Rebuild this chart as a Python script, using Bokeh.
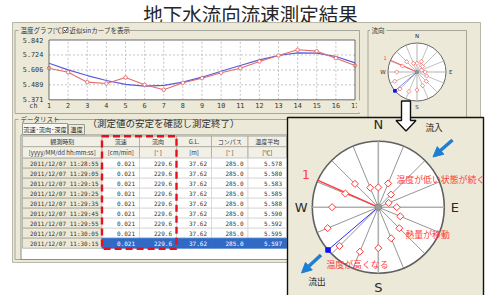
import numpy as np
from bokeh.plotting import figure
from bokeh.models import Range1d, Arrow, NormalHead
from bokeh.embed import file_html
from bokeh.resources import INLINE
from bokeh.core.properties import value

# ---------------- data ----------------
title_text = "地下水流向流速測定結果"
channels = [1, 2, 3, 4, 5, 6, 7, 8, 9, 10, 11, 12, 13, 14, 15, 16, 17]
channel_labels = ["1", "2", "3", "4", "5", "6", "7", "8", "9", "10", "11", "12", "13", "14", "15", "16", "17"]
temp_measured = [5.620, 5.588, 5.510, 5.499, 5.547, 5.489, 5.450, 5.505, 5.541,
                 5.584, 5.620, 5.673, 5.720, 5.765, 5.754, 5.699, 5.641]
temp_sinfit = [5.659, 5.607, 5.562, 5.523, 5.492, 5.478, 5.484, 5.510, 5.549,
               5.596, 5.641, 5.686, 5.720, 5.741, 5.738, 5.712, 5.662]
y_ticks = [5.371, 5.489, 5.606, 5.724, 5.842]
y_tick_labels = ["5.371", "5.489", "5.606", "5.724", "5.842"]

sensor_bearings = [0.0, 22.5, 45.0, 67.5, 90.0, 112.5, 135.0, 157.5,
                   180.0, 202.5, 225.0, 247.5, 270.0, 292.5, 315.0, 337.5]
sensor_radius = [0.30, 0.39, 0.27, 0.17, 0.28, 0.36, 0.45, 0.51,
                 0.62, 0.73, 0.83, 0.83, 0.70, 0.54, 0.50, 0.32]
ch1_bearing = 294.0
flow_direction = 229.6
flow_ratio = 1.0

col_titles = ["観測時刻", "流速", "流向", "G.L.", "コンパス", "温度平均"]
col_units = ["[yyyy/MM/dd hh:mm:ss]", "[cm/min]", "[° ]", "[m]", "[° ]", "[℃]"]
obs_times = ["2011/12/07 11:28:55", "2011/12/07 11:29:05", "2011/12/07 11:29:15",
             "2011/12/07 11:29:25", "2011/12/07 11:29:35", "2011/12/07 11:29:45",
             "2011/12/07 11:29:55", "2011/12/07 11:30:05", "2011/12/07 11:30:15"]
flow_speed = ["0.021", "0.021", "0.021", "0.021", "0.021", "0.021", "0.021", "0.021", "0.021"]
flow_dir = ["229.6", "229.6", "229.6", "229.6", "229.6", "229.6", "229.6", "229.6", "229.6"]
gl_depth = ["37.62", "37.62", "37.62", "37.62", "37.62", "37.62", "37.62", "37.62", "37.62"]
compass_vals = ["285.0", "285.0", "285.0", "285.0", "285.0", "285.0", "285.0", "285.0", "285.0"]
temp_avg = ["5.578", "5.580", "5.583", "5.585", "5.588", "5.590", "5.592", "5.595", "5.597"]

# ---------------- styling ----------------
JP = "Noto Sans CJK JP"
BEIGE = "#ECE9D8"
EDGE = "#a7a69a"
RED = "#ff3b3b"
BLUE_ARROW = "#1d7fd2"

W, H = 487, 295
X0, X1, Y0, Y1 = 0, W, 0, H  # pixel window covered by the figure

p = figure(width=W, height=H, x_range=Range1d(X0, X1), y_range=Range1d(Y1, Y0),
           output_backend="svg", toolbar_location=None, min_border=0,
           x_axis_location=None, y_axis_location=None, title=None)
p.grid.visible = False
p.outline_line_color = None
p.background_fill_color = "white"
p.border_fill_color = "white"

# line-chart scales
LX0, LX1 = 48.5, 354.5
LYB, LYT = 99.3, 39.5
sx = (LX1 - LX0) / (channels[-1] - channels[0])
sy = (LYB - LYT) / (y_ticks[-1] - y_ticks[0])
p.extra_x_ranges["ch"] = Range1d(channels[0] - (LX0 - X0) / sx, channels[-1] + (X1 - LX1) / sx)
p.extra_y_ranges["temp"] = Range1d(y_ticks[0] - (Y1 - LYB) / sy, y_ticks[-1] + (LYT - Y0) / sy)


def polar_ranges(name, cx, cy, r):
    p.extra_x_ranges[name + "x"] = Range1d((X0 - cx) / r, (X1 - cx) / r)
    p.extra_y_ranges[name + "y"] = Range1d(-(Y1 - cy) / r, (cy - Y0) / r)


polar_ranges("big", 377.8, 206.7, 66.0)
polar_ranges("sm", 416.5, 71.5, 29.0)


def T(x, y, s, size, color="#222222", align="left", baseline="middle", font=JP,
      style="normal", xr="default", yr="default"):
    if not isinstance(x, (list, tuple, np.ndarray)):
        x, y, s = [x], [y], [s]
    p.text(x=list(x), y=list(y), text=list(s), text_font=value(font),
           text_font_size=value(f"{size}px"), text_color=color, text_align=align,
           text_baseline=baseline, text_font_style=style,
           x_range_name=xr, y_range_name=yr)


def box(l, r, t, b, fill=None, line=None, lw=1.0, dash="solid", alpha=1.0):
    p.quad(left=[l], right=[r], top=[t], bottom=[b], fill_color=fill,
           line_color=line, line_width=lw, line_dash=dash, fill_alpha=alpha)


# ---------------- title ----------------
T(250, 12.5, title_text, 19.5, color="#262626", align="center")

# ---------------- screenshot background ----------------
box(12, 480, 22, 262, fill=BEIGE, line="#b9b7a8")
# group box: temperature graph
box(14.5, 359, 30, 113, fill=None, line=EDGE)
box(18, 120, 26, 33, fill=BEIGE, line=None)
T(20, 29.5, "温度グラフ[℃]", 6.5, color="#333333")
box(62.5, 67.5, 27, 32, fill="white", line="#555555", lw=0.8)
p.line(x=[63.5, 65, 67], y=[29.5, 31, 27.8], line_color="#333333", line_width=1)
T(69, 29.5, "近似sinカーブを表示", 6.5, color="#333333")

# ---------------- line chart ----------------
p.quad(left=[channels[0]], right=[channels[-1]], bottom=[y_ticks[0]], top=[y_ticks[-1]],
       fill_color="white", line_color=None, x_range_name="ch", y_range_name="temp")
p.segment(x0=channels[1:-1], x1=channels[1:-1], y0=[y_ticks[0]] * 15, y1=[y_ticks[-1]] * 15,
          line_color="#b5b5b5", line_dash="2 2", line_width=0.8,
          x_range_name="ch", y_range_name="temp")
p.segment(x0=[channels[0]] * 3, x1=[channels[-1]] * 3, y0=y_ticks[1:-1], y1=y_ticks[1:-1],
          line_color="#b5b5b5", line_dash="2 2", line_width=0.8,
          x_range_name="ch", y_range_name="temp")
p.line(channels, temp_sinfit, line_color="#5b5bd8", line_width=1.2,
       x_range_name="ch", y_range_name="temp")
p.line(channels, temp_measured, line_color="#e46a6a", line_width=1.1,
       x_range_name="ch", y_range_name="temp")
p.scatter(channels, temp_measured, marker="circle", size=3.5, fill_color="white",
          line_color="#e46a6a", line_width=0.9, x_range_name="ch", y_range_name="temp")
p.quad(left=[channels[0]], right=[channels[-1]], bottom=[y_ticks[0]], top=[y_ticks[-1]],
       fill_color=None, line_color="#6a6a6a", line_width=1,
       x_range_name="ch", y_range_name="temp")
T([channels[0] - 0.3] * 5, y_ticks, y_tick_labels, 6.8, color="#333333", align="right",
  font="DejaVu Sans Mono", xr="ch", yr="temp")
T(channels, [y_ticks[0] - 0.046] * 17, channel_labels, 6.8, color="#333333", align="center",
  font="DejaVu Sans Mono", xr="ch", yr="temp")
T(channels[0] - 0.6, y_ticks[0] - 0.046, "ch", 6.8, color="#333333", align="right",
  font="DejaVu Sans Mono", xr="ch", yr="temp")
box(356.5, 366, 100, 112, fill=BEIGE, line=None)

# ---------------- small polar panel ----------------
box(367.5, 466, 30, 117, fill=None, line=EDGE)
box(369.5, 386, 26, 33, fill=BEIGE, line=None)
T(371, 29.5, "流向", 6.5, color="#333333")


def polar(name, lw_scale, diamond_size, label_size):
    xr, yr = name + "x", name + "y"
    b = np.radians(sensor_bearings)
    p.circle(x=[0], y=[0], radius=1, fill_color="white", line_color="#606060",
             line_width=1.6 * lw_scale, x_range_name=xr, y_range_name=yr)
    card = [i for i, a in enumerate(sensor_bearings) if a % 90 == 0]
    diag = [i for i, a in enumerate(sensor_bearings) if a % 90 != 0]
    p.segment(x0=[0] * len(diag), y0=[0] * len(diag), x1=np.sin(b[diag]), y1=np.cos(b[diag]),
              line_color="#7a7a7a", line_width=0.8 * lw_scale, x_range_name=xr, y_range_name=yr)
    p.segment(x0=[0] * len(card), y0=[0] * len(card), x1=np.sin(b[card]), y1=np.cos(b[card]),
              line_color="#b0b0b0", line_width=1.6 * lw_scale, x_range_name=xr, y_range_name=yr)
    c1 = np.radians(ch1_bearing)
    p.segment(x0=[0], y0=[0], x1=[np.sin(c1)], y1=[np.cos(c1)], line_color=RED,
              line_width=1.4 * lw_scale, x_range_name=xr, y_range_name=yr)
    fd = np.radians(flow_direction)
    fx, fy = flow_ratio * np.sin(fd), flow_ratio * np.cos(fd)
    p.segment(x0=[0], y0=[0], x1=[fx], y1=[fy], line_color="#2a2aff",
              line_width=1.0 * lw_scale, x_range_name=xr, y_range_name=yr)
    p.scatter(x=[fx], y=[fy], marker="square", size=4.5 * lw_scale, fill_color="#1010ff",
              line_color="#1010ff", x_range_name=xr, y_range_name=yr)
    r = np.array(sensor_radius)
    p.scatter(x=r * np.sin(b), y=r * np.cos(b), marker="square", angle=np.pi / 4,
              size=diamond_size, fill_color="white", line_color=RED, line_width=1.0 * lw_scale,
              x_range_name=xr, y_range_name=yr)
    p.circle(x=[0], y=[0], radius=0.05, fill_color="#9a9a9a", line_color="#8a8a8a",
             x_range_name=xr, y_range_name=yr)
    T(1.2 * np.sin(c1), 1.2 * np.cos(c1), "1", label_size * 0.95, color=RED, align="center",
      font="DejaVu Sans", xr=xr, yr=yr)
    T([0, 1.16, 0, -1.17], [1.25, 0, -1.22, 0], ["N", "E", "S", "W"], label_size,
      color="#2a2a2a", align="center", font="DejaVu Sans", xr=xr, yr=yr)


polar("sm", 0.6, 3.0, 5.5)

# ---------------- data list ----------------
box(14.5, 300, 119, 259, fill=None, line=EDGE)
box(18, 54, 115, 122, fill=BEIGE, line=None)
T(20, 118.5, "データリスト", 6.5, color="#333333")
box(22, 67, 123, 134, fill="#f7f6f0", line="#9a9a90")
T(44.5, 128.5, "流速･流向･深度", 6.2, color="#222222", align="center")
box(68, 84, 124, 134, fill=BEIGE, line="#9a9a90")
T(76, 129, "温度", 6.2, color="#222222", align="center")
T(87, 122, "（測定値の安定を確認し測定終了）", 9.5, color="#333333")

col_edges = [22, 101.5, 139, 176, 211, 247.5, 286]
box(20.5, 300, 134.5, 259, fill="white", line="#8d8d86")
h_rows = [(135.7, 146.2), (146.2, 157.7)]
for ci in range(6):
    l, r = col_edges[ci], col_edges[ci + 1]
    for (t, b), s in zip(h_rows, [col_titles[ci], col_units[ci]]):
        box(l, r, t, b, fill="#f1efe6", line="#a9a89c", lw=0.8)
        T((l + r) / 2, (t + b) / 2, s, 6.0, color="#333333", align="center")

row_top = 157.7
row_h = 10.0
columns = [obs_times, flow_speed, flow_dir, gl_depth, compass_vals, temp_avg]
nrows = len(obs_times)
for ri in range(nrows):
    t = row_top + ri * row_h
    b = t + row_h
    sel = ri == nrows - 1
    for ci in range(6):
        l, r = col_edges[ci], col_edges[ci + 1]
        if ci == 0:
            box(l, r, t, b, fill=BEIGE, line="#a9a89c", lw=0.8)
            T((l + r) / 2 + 2, (t + b) / 2, columns[ci][ri], 6.0, color="#333333",
              align="center", font="DejaVu Sans Mono")
        else:
            box(l, r, t, b, fill="#316AC5" if sel else "white",
                line="#316AC5" if sel else "#d6d6d6", lw=0.8)
            T(r - 4.5, (t + b) / 2, columns[ci][ri], 6.0,
              color="white" if sel else "#333333", align="right", font="DejaVu Sans Mono")

# highlight of speed / direction columns
box(col_edges[1], col_edges[3], 135.7, 248.3, fill=None, line="#e8101a", lw=2.4, dash="7 4")

# ---------------- enlarged polar panel ----------------
box(287, 483, 117, 300, fill=BEIGE, line="#111111", lw=1.4)
polar("big", 1.0, 5.0, 13)

# hollow arrow from small to big polar
p.patch(x=[401, 410, 410, 415.5, 405.5, 395.5, 401],
        y=[100.5, 100.5, 120, 120, 130.5, 120, 120],
        fill_color="white", line_color="#111111", line_width=1.4)

T(425, 126, "流入", 8.6, color="#222222")
T(308, 280, "流出", 8.6, color="#222222")
T(396, 178.5, "温度が低い状態が続く", 8.9, color=RED)
T(405, 234, "熱量が移動", 8.9, color=RED)
T(326, 263.5, "温度が高くなる", 8.9, color=RED)

for xs, ys, xe, ye in [(452, 139.5, 432.5, 156.5), (320.5, 254.5, 301, 272.5)]:
    p.add_layout(Arrow(end=NormalHead(size=10, fill_color=BLUE_ARROW, line_color=BLUE_ARROW),
                       x_start=xs, y_start=ys, x_end=xe, y_end=ye,
                       line_color=BLUE_ARROW, line_width=3.5))

open("out.html", "w").write(file_html(p, INLINE))
